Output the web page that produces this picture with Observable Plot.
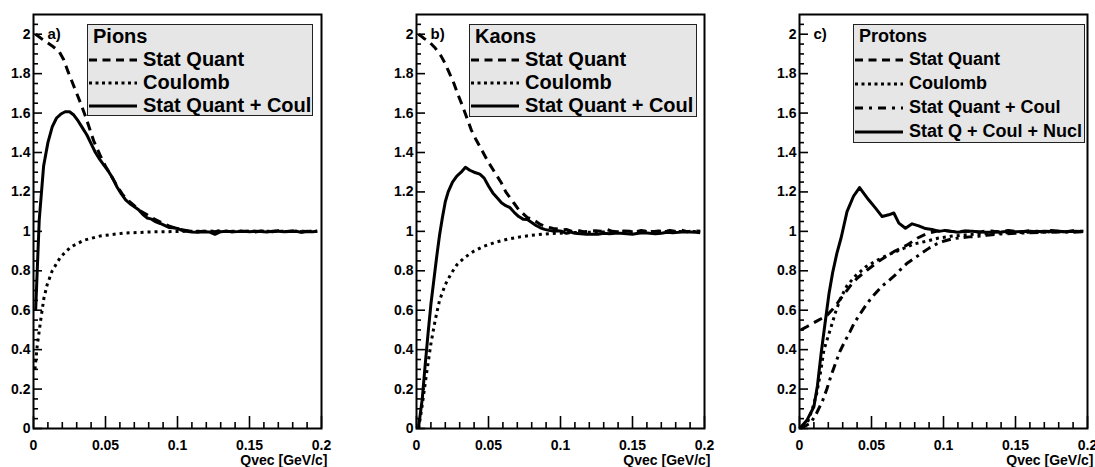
<!DOCTYPE html>
<html><head><meta charset="utf-8">
<script src="https://cdn.jsdelivr.net/npm/d3@7"></script>
<script src="https://cdn.jsdelivr.net/npm/@observablehq/plot@0.6"></script>
<style>
body{margin:0;background:#fff;font-family:"Liberation Sans",Arial,Helvetica,sans-serif;font-weight:bold;}
#root{position:relative;width:1095px;height:467px;overflow:hidden;background:#fff;}
.panel{position:absolute;top:0;width:365px;height:467px;}
.panel svg{overflow:visible;}
.legend{position:absolute;background:#e6e6e6;border:1.5px solid #222;box-sizing:border-box;}
.legend .t{position:absolute;white-space:nowrap;line-height:1;color:#000;}
.legend svg.s{position:absolute;}
</style></head><body><div id="root"></div>
<script>
// ---------- data ----------
const xMajor = [0, 0.05, 0.1, 0.15, 0.2];
const xTickLabels = ["0", "0.05", "0.1", "0.15", "0.2"];
const xMinor = [0.01,0.02,0.03,0.04,0.06,0.07,0.08,0.09,0.11,0.12,0.13,0.14,0.16,0.17,0.18,0.19];
const yMajor = [0, 0.2, 0.4, 0.6, 0.8, 1, 1.2, 1.4, 1.6, 1.8, 2];
const yTickLabels = ["0","0.2","0.4","0.6","0.8","1","1.2","1.4","1.6","1.8","2"];
const yMinor = [0.05,0.1,0.15,0.25,0.3,0.35,0.45,0.5,0.55,0.65,0.7,0.75,0.85,0.9,0.95,1.05,1.1,1.15,1.25,1.3,1.35,1.45,1.5,1.55,1.65,1.7,1.75,1.85,1.9,1.95,2.05];
const xLabel = "Qvec [GeV/c]";

// Pions
const pionsStatQuant = [[0.0015,2.0],[0.006,1.975],[0.010,1.955],[0.014,1.935],[0.018,1.91],[0.021,1.87],[0.024,1.81],[0.027,1.755],[0.030,1.7],[0.033,1.645],[0.036,1.585],[0.039,1.52],[0.042,1.455],[0.046,1.39],[0.050,1.33],[0.054,1.28],[0.058,1.23],[0.062,1.185],[0.066,1.155],[0.070,1.13],[0.074,1.105],[0.078,1.088],[0.082,1.07],[0.086,1.055],[0.090,1.04],[0.094,1.028],[0.098,1.018],[0.102,1.01],[0.106,1.005],[0.110,1.0],[0.114,0.998],[0.118,1.0],[0.122,1.002],[0.126,0.998],[0.130,1.004],[0.134,1.0],[0.138,0.998],[0.142,1.003],[0.146,0.999],[0.150,1.0],[0.154,0.997],[0.158,1.002],[0.162,1.0],[0.166,0.998],[0.170,1.003],[0.174,0.999],[0.178,1.0],[0.182,1.004],[0.186,0.997],[0.190,1.0],[0.194,0.998],[0.197,1.0]];
const pionsCoulomb = [[0.001,0.3],[0.0026,0.42],[0.005,0.55],[0.0072,0.66],[0.0095,0.73],[0.013,0.8],[0.0188,0.87],[0.0257,0.92],[0.035,0.955],[0.0465,0.977],[0.0627,0.991],[0.081,0.997],[0.1045,1.0],[0.13,1.0],[0.16,1.0],[0.197,1.0]];
const pionsSum = [[0.0015,0.6],[0.004,1.06],[0.007,1.33],[0.010,1.45],[0.013,1.53],[0.016,1.575],[0.019,1.595],[0.022,1.607],[0.025,1.607],[0.028,1.59],[0.031,1.56],[0.034,1.525],[0.037,1.49],[0.040,1.445],[0.043,1.4],[0.046,1.365],[0.049,1.335],[0.052,1.305],[0.055,1.27],[0.058,1.225],[0.061,1.19],[0.064,1.16],[0.067,1.14],[0.070,1.125],[0.073,1.11],[0.076,1.085],[0.079,1.068],[0.082,1.062],[0.085,1.048],[0.088,1.04],[0.091,1.03],[0.094,1.02],[0.097,1.018],[0.100,1.015],[0.103,1.005],[0.106,1.0],[0.110,0.997],[0.114,0.996],[0.118,0.998],[0.122,0.997],[0.126,0.985],[0.130,0.998],[0.134,1.0],[0.138,0.998],[0.142,0.999],[0.146,1.001],[0.150,0.998],[0.154,1.0],[0.158,0.999],[0.162,0.997],[0.166,1.0],[0.170,1.001],[0.174,0.998],[0.178,0.999],[0.182,1.0],[0.186,0.996],[0.190,0.999],[0.194,0.998],[0.197,1.0]];

// Kaons
const kaonsStatQuant = [[0.0015,2.0],[0.005,1.98],[0.009,1.96],[0.013,1.93],[0.017,1.89],[0.020,1.85],[0.023,1.8],[0.026,1.75],[0.029,1.69],[0.032,1.635],[0.035,1.575],[0.038,1.515],[0.041,1.47],[0.044,1.43],[0.047,1.39],[0.050,1.35],[0.053,1.315],[0.056,1.28],[0.059,1.245],[0.062,1.2],[0.065,1.17],[0.068,1.14],[0.071,1.11],[0.074,1.09],[0.077,1.07],[0.080,1.062],[0.083,1.05],[0.086,1.035],[0.089,1.025],[0.092,1.02],[0.095,1.015],[0.098,1.012],[0.101,1.008],[0.104,1.01],[0.108,1.0],[0.112,1.005],[0.116,0.998],[0.120,1.0],[0.124,1.003],[0.128,1.0],[0.132,1.01],[0.136,1.0],[0.140,0.998],[0.144,1.002],[0.148,1.0],[0.152,0.998],[0.156,1.004],[0.160,1.0],[0.164,0.998],[0.168,1.002],[0.172,1.0],[0.176,1.005],[0.180,1.0],[0.184,1.006],[0.188,0.998],[0.192,1.003],[0.197,1.0]];
const kaonsCoulomb = [[0.0015,0.0],[0.004,0.12],[0.007,0.28],[0.010,0.43],[0.013,0.55],[0.016,0.65],[0.020,0.73],[0.024,0.785],[0.028,0.83],[0.033,0.865],[0.040,0.9],[0.047,0.925],[0.055,0.945],[0.063,0.96],[0.072,0.972],[0.082,0.982],[0.092,0.988],[0.105,0.993],[0.12,0.996],[0.14,0.998],[0.17,0.999],[0.197,1.0]];
const kaonsSum = [[0.0015,0.01],[0.004,0.15],[0.006,0.32],[0.008,0.48],[0.010,0.63],[0.012,0.75],[0.014,0.87],[0.016,0.98],[0.018,1.07],[0.020,1.15],[0.022,1.2],[0.025,1.25],[0.028,1.28],[0.031,1.3],[0.034,1.325],[0.037,1.31],[0.040,1.3],[0.044,1.29],[0.047,1.27],[0.050,1.23],[0.053,1.195],[0.056,1.17],[0.059,1.145],[0.062,1.13],[0.065,1.12],[0.068,1.095],[0.071,1.075],[0.074,1.062],[0.077,1.06],[0.080,1.045],[0.083,1.03],[0.086,1.018],[0.089,1.01],[0.092,1.005],[0.095,1.002],[0.098,1.003],[0.101,1.0],[0.104,0.99],[0.107,0.997],[0.110,0.99],[0.114,0.988],[0.118,0.985],[0.122,0.985],[0.126,0.985],[0.130,0.99],[0.134,0.988],[0.138,0.99],[0.142,0.99],[0.146,0.988],[0.150,0.985],[0.154,0.99],[0.158,0.993],[0.162,0.99],[0.166,0.988],[0.170,0.99],[0.174,0.995],[0.178,0.993],[0.182,0.995],[0.186,0.998],[0.190,0.997],[0.194,0.995],[0.197,0.993]];

// Protons
const protonsStatQuant = [[0.001,0.5],[0.006,0.52],[0.011,0.541],[0.015,0.557],[0.0192,0.575],[0.023,0.605],[0.0262,0.635],[0.0295,0.668],[0.0331,0.702],[0.036,0.73],[0.040,0.762],[0.047,0.804],[0.0563,0.855],[0.0655,0.897],[0.0748,0.931],[0.0817,0.965],[0.0887,0.99],[0.095,1.0],[0.100,1.005],[0.105,1.0],[0.110,0.998],[0.115,1.002],[0.120,1.0],[0.125,0.997],[0.130,1.003],[0.135,1.0],[0.140,0.998],[0.145,1.004],[0.150,1.0],[0.155,0.998],[0.160,1.003],[0.165,1.0],[0.170,0.997],[0.175,1.004],[0.180,1.0],[0.185,0.998],[0.190,1.003],[0.197,1.0]];
const protonsCoulomb = [[0.002,0.01],[0.006,0.04],[0.009,0.1],[0.012,0.18],[0.0145,0.28],[0.017,0.4],[0.020,0.47],[0.0227,0.533],[0.025,0.59],[0.0285,0.66],[0.033,0.725],[0.039,0.775],[0.046,0.82],[0.052,0.846],[0.061,0.88],[0.070,0.906],[0.079,0.935],[0.088,0.95],[0.096,0.965],[0.105,0.975],[0.115,0.982],[0.125,0.987],[0.14,0.992],[0.16,0.996],[0.18,0.998],[0.197,1.0]];
const protonsSum = [[0.001,0.0],[0.008,0.03],[0.012,0.08],[0.016,0.14],[0.019,0.2],[0.022,0.27],[0.025,0.33],[0.028,0.39],[0.031,0.435],[0.035,0.49],[0.038,0.535],[0.042,0.58],[0.047,0.635],[0.052,0.68],[0.057,0.72],[0.062,0.75],[0.066,0.775],[0.070,0.805],[0.075,0.84],[0.080,0.865],[0.085,0.89],[0.090,0.915],[0.095,0.935],[0.100,0.95],[0.106,0.962],[0.112,0.968],[0.118,0.972],[0.124,0.975],[0.130,0.98],[0.140,0.987],[0.150,0.99],[0.160,0.993],[0.170,0.995],[0.180,0.997],[0.190,0.996],[0.197,0.998]];
const protonsNucl = [[0.0,0.0],[0.005,0.04],[0.010,0.11],[0.0125,0.22],[0.015,0.38],[0.0175,0.52],[0.0205,0.685],[0.023,0.79],[0.026,0.89],[0.029,0.97],[0.033,1.1],[0.0375,1.178],[0.0417,1.222],[0.048,1.16],[0.0528,1.118],[0.0574,1.075],[0.062,1.084],[0.0655,1.093],[0.069,1.042],[0.0736,1.016],[0.0782,1.038],[0.0828,1.028],[0.0875,1.014],[0.092,1.01],[0.097,1.0],[0.101,1.005],[0.105,1.0],[0.110,0.996],[0.115,1.0],[0.120,1.0],[0.125,0.997],[0.130,0.995],[0.135,0.996],[0.140,0.997],[0.145,1.0],[0.150,0.998],[0.155,0.999],[0.160,1.0],[0.165,0.998],[0.170,1.0],[0.175,0.999],[0.180,1.001],[0.185,0.998],[0.190,1.0],[0.197,0.999]];

const panelLabels = ["a)", "b)", "c)"];
const legendTitles = ["Pions", "Kaons", "Protons"];
const legendNames3 = ["Stat Quant", "Coulomb", "Stat Quant + Coul"];
const legendNames4 = ["Stat Quant", "Coulomb", "Stat Quant + Coul", "Stat Q + Coul + Nucl"];

// ---------- styles ----------
const DASH = "9,6", DOT = "3,4", DASHDOT = "9,5,3,5", SOLID = null;
const LEG_DASH = "8,5.5", LEG_DOT = "3,3.5", LEG_DASHDOT = "8,6,3,6";

const panels = [
  {left: 0, ml: 33, mr: 44, label: panelLabels[0], title: legendTitles[0],
   series: [{d: pionsStatQuant, dash: DASH}, {d: pionsCoulomb, dash: DOT}, {d: pionsSum, dash: SOLID}],
   legend: {x: 87, y: 24, w: 226, h: 92, fs: 20, gap: 23, names: legendNames3, dashes: [LEG_DASH, LEG_DOT, null]}},
  {left: 365, ml: 51, mr: 26, label: panelLabels[1], title: legendTitles[1],
   series: [{d: kaonsStatQuant, dash: DASH}, {d: kaonsCoulomb, dash: DOT}, {d: kaonsSum, dash: SOLID}],
   legend: {x: 104, y: 24, w: 228, h: 93, fs: 20, gap: 23, names: legendNames3, dashes: [LEG_DASH, LEG_DOT, null]}},
  {left: 730, ml: 69, mr: 8, label: panelLabels[2], title: legendTitles[2],
   series: [{d: protonsStatQuant, dash: DASH}, {d: protonsCoulomb, dash: DOT}, {d: protonsSum, dash: DASHDOT}, {d: protonsNucl, dash: SOLID}],
   legend: {x: 123, y: 24, w: 232, h: 119, fs: 18, gap: 23.8, names: legendNames4, dashes: [LEG_DASH, LEG_DOT, LEG_DASHDOT, null]}}
];

const W = 365, H = 467, MT = 14, MB = 39;
const root = d3.select("#root");

for (const p of panels) {
  const fw = W - p.ml - p.mr, fh = H - MT - MB;
  const marks = [];
  for (const s of p.series) {
    marks.push(Plot.line(s.d, {x: d => d[0], y: d => d[1], stroke: "black", strokeWidth: 3,
      strokeDasharray: s.dash, strokeLinejoin: "round", strokeLinecap: "butt"}));
  }
  marks.push(Plot.tickX(xMinor, {x: d => d, insetTop: fh - 6, stroke: "black", strokeWidth: 1.6}));
  marks.push(Plot.tickX(xMajor, {x: d => d, insetTop: fh - 12, stroke: "black", strokeWidth: 1.6}));
  marks.push(Plot.tickY(yMinor, {y: d => d, insetRight: fw - 5, stroke: "black", strokeWidth: 1.6}));
  marks.push(Plot.tickY(yMajor, {y: d => d, insetRight: fw - 9, stroke: "black", strokeWidth: 1.6}));
  marks.push(Plot.axisX(xMajor, {tickSize: 0, tickPadding: 12, tickFormat: (d) => xTickLabels[xMajor.indexOf(d)], fontSize: 14, fontWeight: "bold", label: null}));
  marks.push(Plot.axisY(yMajor, {tickSize: 0, tickPadding: 3, tickFormat: (d) => yTickLabels[yMajor.indexOf(d)], fontSize: 14, fontWeight: "bold", label: null}));
  marks.push(Plot.frame({stroke: "black", strokeWidth: 2}));
  marks.push(Plot.text([p.label], {frameAnchor: "top-left", dx: 14, dy: 14, textAnchor: "start", fontSize: 15, fontWeight: "bold", fill: "black"}));
  marks.push(Plot.text([xLabel], {frameAnchor: "bottom-right", dx: 6, dy: 36, textAnchor: "end", fontSize: 14, fontWeight: "bold", fill: "black"}));

  const chart = Plot.plot({
    width: W, height: H,
    marginLeft: p.ml, marginRight: p.mr, marginTop: MT, marginBottom: MB,
    x: {domain: [0, 0.2]},
    y: {domain: [0, 2.1]},
    style: {fontFamily: "'Liberation Sans', Arial, Helvetica, sans-serif", fontSize: "14px", fontWeight: "bold", background: "transparent", color: "black", overflow: "visible"},
    marks
  });

  const div = root.append("div").attr("class", "panel").style("left", p.left + "px");
  div.node().appendChild(chart);

  // legend (overlay inside frame)
  const L = p.legend;
  const lg = div.append("div").attr("class", "legend")
    .style("left", L.x + "px").style("top", L.y + "px")
    .style("width", L.w + "px").style("height", L.h + "px");
  const c0 = 11.5;
  lg.append("div").attr("class", "t").text(p.title)
    .style("left", "5px").style("top", (c0 - L.fs * 0.55) + "px").style("font-size", L.fs + "px");
  L.names.forEach((name, i) => {
    const cy = c0 + L.gap * (i + 1);
    const s = lg.append("svg").attr("class", "s").attr("width", 48).attr("height", 8)
      .style("left", "1px").style("top", (cy - 4) + "px");
    s.append("line").attr("x1", 0).attr("x2", 48).attr("y1", 4).attr("y2", 4)
      .attr("stroke", "black").attr("stroke-width", 3)
      .attr("stroke-dasharray", L.dashes[i]);
    lg.append("div").attr("class", "t").text(name)
      .style("left", "55px").style("top", (cy - L.fs * 0.55) + "px").style("font-size", L.fs + "px");
  });
}
</script></body></html>
